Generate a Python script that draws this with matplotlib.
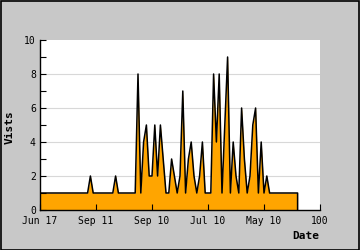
import numpy as np
import matplotlib
matplotlib.use("Agg")
import matplotlib.pyplot as plt
from matplotlib.patches import Rectangle

# daily visits, one value per index (0..92)
visits = [1] * 18 + [2] + [1] * 8 + [2] + [1] * 7 + [
    8, 1, 4, 5, 2, 2, 5, 2, 5, 3, 1, 1, 3, 2, 1, 2, 7, 1, 3, 4,
    2, 1, 2, 4, 1, 1, 1, 8, 4, 8, 1, 5, 9, 1, 4, 2, 1, 6, 3, 1,
    2, 5, 6, 1, 4, 1, 2, 1] + [1] * 10
tick_pos = [0, 20, 40, 60, 80, 100]
tick_labels = ["Jun 17", "Sep 11", "Sep 10", "Jul 10", "May 10", "100"]

plt.rcParams['font.family'] = ['DejaVu Sans Mono']

fig = plt.figure(figsize=(3.6, 2.5), dpi=100)
fig.patch.set_facecolor("#C8C8C8")
fig.patches.append(Rectangle((0.0015, 0.002), 0.997, 0.996, transform=fig.transFigure,
                             fill=False, edgecolor="black", linewidth=1.2))

ax = fig.add_axes([40 / 360, 40 / 250, 280 / 360, 170 / 250])
ax.set_facecolor("white")

x = np.arange(len(visits))
ax.fill_between(x, visits, 0, color="#FFA500", linewidth=0)
ax.plot(list(x) + [x[-1]], visits + [0], color="black", linewidth=1.1)

ax.set_xlim(0, 100)
ax.set_ylim(0, 10)
ax.set_yticks(range(0, 11, 2))
ax.set_yticks(range(0, 11, 1), minor=True)
ax.set_xticks(tick_pos)
ax.set_xticklabels(tick_labels)
for v in [2, 4, 6, 8]:
    ax.axhline(v, color="#D8D8D8", linewidth=0.8, zorder=0)

ax.tick_params(axis="both", direction="in", length=4, width=0.8, labelsize=7, pad=3)
ax.tick_params(axis="y", which="minor", direction="in", length=4, width=0.8)
ax.tick_params(axis="x", pad=4)
for s in ["top", "right"]:
    ax.spines[s].set_visible(False)
for s in ["left", "bottom"]:
    ax.spines[s].set_linewidth(1.0)

fig.text(319 / 360, 1 - 236 / 250, "Date", ha="right", va="center",
         fontsize=8, fontweight="bold")
fig.text(10 / 360, 1 - 127 / 250, "Vists", ha="center", va="center",
         rotation=90, fontsize=8, fontweight="bold")

fig.savefig("out.png", dpi=100, facecolor=fig.get_facecolor())
